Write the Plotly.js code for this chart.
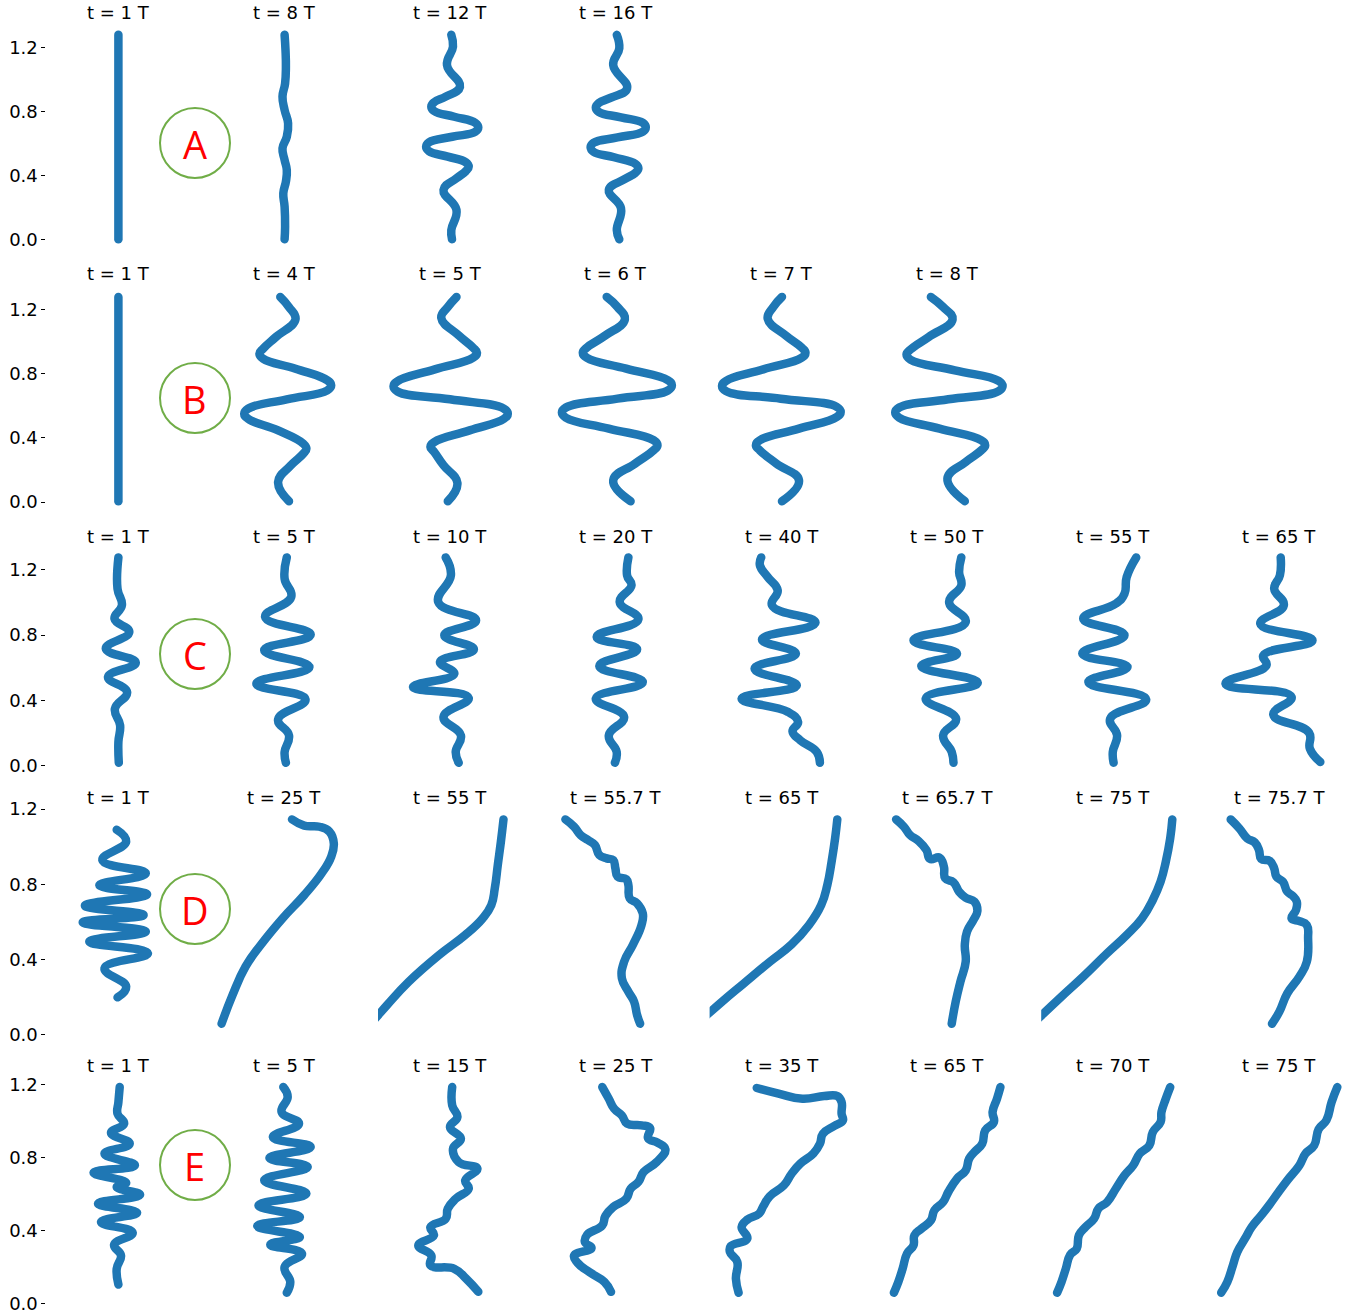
<!DOCTYPE html>
<html>
<head>
<meta charset="utf-8">
<script src="https://cdn.plot.ly/plotly-3.0.1.min.js"></script>
<style>
html,body{margin:0;padding:0;background:#fff;}
#chart{width:1351px;height:1316px;}
#chart .scatterlayer .js-line{stroke-linecap:round;stroke-linejoin:round;}
</style>
</head>
<body>
<div id="chart"></div>
<script>
// ---------------- DATA ----------------
const rowLetters = ['A', 'B', 'C', 'D', 'E'];
const A_t = ['1', '8', '12', '16'];
const B_t = ['1', '4', '5', '6', '7', '8'];
const C_t = ['1', '5', '10', '20', '40', '50', '55', '65'];
const D_t = ['1', '25', '55', '55.7', '65', '65.7', '75', '75.7'];
const E_t = ['1', '5', '15', '25', '35', '65', '70', '75'];
const yTickVals = [0, 0.4, 0.8, 1.2];
const yTickText = ['0.0', '0.4', '0.8', '1.2'];

// Row A
const A1_x = [0, 0];
const A1_y = [1.28, 0.005];
const A2_x = [0.004, 0.013, 0.017, 0.009, -0.017, 0.004, 0.039, 0.026, -0.017, 0.004, 0.026, 0.017, -0.009, 0.004, 0.009, 0.004];
const A2_y = [1.28, 1.185, 1.081, 0.977, 0.894, 0.811, 0.728, 0.644, 0.572, 0.499, 0.437, 0.364, 0.291, 0.208, 0.083, 0.005];
const A3_x = [0.013, 0.03, -0.03, 0.10, -0.043, -0.157, -0.187, -0.157, 0.043, 0.253, 0.283, 0.253, 0.022, -0.209, -0.239, -0.209, -0.022, 0.157, 0.187, 0.157, 0.065, -0.065, 0.065, 0.013, 0.02];
const A3_y = [1.28, 1.206, 1.091, 0.956, 0.894, 0.86, 0.832, 0.804, 0.769, 0.731, 0.703, 0.675, 0.644, 0.61, 0.582, 0.554, 0.52, 0.485, 0.457, 0.429, 0.385, 0.312, 0.187, 0.062, 0.005];
const A4_x = [0.01, 0.035, -0.026, 0.113, -0.048, -0.17, -0.20, -0.17, 0.052, 0.27, 0.30, 0.27, 0.017, -0.222, -0.252, -0.222, -0.017, 0.196, 0.226, 0.196, 0.083, -0.07, 0.052, 0.01, 0.035];
const A4_y = [1.28, 1.195, 1.091, 0.946, 0.888, 0.855, 0.827, 0.799, 0.765, 0.731, 0.703, 0.675, 0.64, 0.606, 0.578, 0.55, 0.516, 0.475, 0.447, 0.419, 0.378, 0.312, 0.198, 0.062, 0.005];

// Row B
const B1_x = [0, 0];
const B1_y = [1.28, 0.005];
const B2_x = [-0.039, 0.048, 0.113, -0.083, -0.21, -0.248, -0.21, 0.113, 0.43, 0.47, 0.43, 0.026, -0.36, -0.40, -0.36, -0.061, 0.19, 0.222, 0.19, 0.061, -0.061, 0.048];
const B2_y = [1.28, 1.217, 1.14, 1.03, 0.958, 0.926, 0.894, 0.832, 0.76, 0.728, 0.696, 0.641, 0.583, 0.551, 0.519, 0.447, 0.365, 0.333, 0.301, 0.225, 0.125, 0.005];
const B3_x = [0.065, -0.022, -0.087, 0.087, 0.23, 0.27, 0.23, -0.152, -0.525, -0.565, -0.525, 0.0, 0.538, 0.578, 0.538, 0.196, -0.156, -0.196, -0.156, -0.065, 0.074, -0.022];
const B3_y = [1.28, 1.217, 1.149, 1.04, 0.964, 0.932, 0.90, 0.828, 0.754, 0.722, 0.69, 0.641, 0.583, 0.551, 0.519, 0.447, 0.375, 0.343, 0.311, 0.229, 0.119, 0.005];
const B4_x = [-0.091, 0.017, 0.091, -0.113, -0.29, -0.33, -0.29, 0.104, 0.521, 0.561, 0.521, 0.017, -0.499, -0.539, -0.499, -0.07, 0.377, 0.417, 0.377, 0.191, -0.026, 0.148];
const B4_y = [1.28, 1.217, 1.14, 1.036, 0.964, 0.932, 0.90, 0.832, 0.76, 0.728, 0.696, 0.645, 0.59, 0.558, 0.526, 0.458, 0.386, 0.354, 0.322, 0.239, 0.135, 0.005];
const B5_x = [0.004, -0.083, -0.139, 0.048, 0.20, 0.239, 0.20, -0.183, -0.556, -0.596, -0.556, -0.009, 0.551, 0.591, 0.551, 0.174, -0.217, -0.257, -0.217, -0.052, 0.174, 0.004];
const B5_y = [1.28, 1.217, 1.144, 1.036, 0.964, 0.932, 0.90, 0.828, 0.756, 0.724, 0.692, 0.645, 0.594, 0.562, 0.53, 0.458, 0.386, 0.354, 0.322, 0.239, 0.135, 0.005];
const B6_x = [-0.165, -0.043, 0.052, -0.187, -0.369, -0.409, -0.369, 0.074, 0.512, 0.552, 0.512, 0.009, -0.482, -0.522, -0.482, -0.078, 0.338, 0.378, 0.338, 0.183, 0.0, 0.174];
const B6_y = [1.28, 1.217, 1.14, 1.03, 0.952, 0.92, 0.888, 0.822, 0.756, 0.724, 0.692, 0.641, 0.59, 0.558, 0.526, 0.458, 0.386, 0.354, 0.322, 0.25, 0.146, 0.005];

// Row C
const C1_x = [0, -0.009, 0.035, -0.039, 0.109, -0.126, 0.174, -0.104, 0.087, -0.035, 0.017, 0, 0.004];
const C1_y = [1.275, 1.084, 0.982, 0.90, 0.819, 0.717, 0.632, 0.544, 0.452, 0.35, 0.249, 0.147, 0.02];
const C2_x = [0.026, 0.004, 0.07, -0.191, 0.265, -0.20, 0.252, -0.278, 0.213, -0.061, 0.048, 0.004, 0.017];
const C2_y = [1.275, 1.145, 1.033, 0.911, 0.803, 0.707, 0.605, 0.503, 0.407, 0.285, 0.187, 0.086, 0.02];
const C3_x = [-0.043, 0.009, -0.117, 0.261, -0.057, 0.239, -0.10, 0.043, -0.37, 0.187, -0.065, 0.109, 0.057, 0.087];
const C3_y = [1.275, 1.165, 1.002, 0.89, 0.799, 0.713, 0.636, 0.564, 0.483, 0.416, 0.30, 0.187, 0.086, 0.02];
const C4_x = [0.126, 0.113, 0.157, 0.039, 0.226, -0.191, 0.213, -0.165, 0.27, -0.20, 0.083, -0.07, 0.009, -0.009];
const C4_y = [1.275, 1.165, 1.104, 1.002, 0.897, 0.789, 0.713, 0.611, 0.513, 0.412, 0.30, 0.187, 0.086, 0.02];
const C5_x = [-0.204, -0.217, -0.139, -0.039, -0.096, 0.339, -0.196, 0.143, -0.27, 0.152, -0.40, 0.065, 0.165, 0.109, 0.187, 0.352, 0.383];
const C5_y = [1.275, 1.227, 1.155, 1.074, 0.982, 0.876, 0.774, 0.687, 0.595, 0.493, 0.412, 0.330, 0.269, 0.212, 0.157, 0.086, 0.02];
const C6_x = [0.139, 0.117, 0.139, 0.017, 0.183, -0.339, 0.096, -0.261, 0.304, -0.217, 0.087, -0.043, 0.043, 0.061];
const C6_y = [1.275, 1.186, 1.104, 1.002, 0.88, 0.768, 0.687, 0.611, 0.509, 0.412, 0.289, 0.187, 0.086, 0.02];
const C7_x = [0.23, 0.135, 0.113, 0.026, -0.30, 0.113, -0.309, 0.143, -0.248, 0.33, -0.03, 0.039, -0.004, 0.004];
const C7_y = [1.275, 1.155, 1.053, 0.992, 0.901, 0.799, 0.687, 0.605, 0.513, 0.407, 0.289, 0.187, 0.086, 0.02];
const C8_x = [0.017, 0.009, -0.048, 0.048, -0.187, 0.335, -0.157, -0.126, -0.535, 0.126, -0.057, 0.30, 0.309, 0.413];
const C8_y = [1.275, 1.165, 1.084, 0.982, 0.87, 0.768, 0.676, 0.615, 0.503, 0.422, 0.314, 0.204, 0.106, 0.025];

// Row D
const D1_x = [-0.017, 0.078, -0.161, 0.274, -0.191, 0.287, -0.335, 0.252, -0.357, 0.274, -0.291, 0.296, -0.139, 0.078, -0.009];
const D1_y = [1.09, 1.027, 0.929, 0.858, 0.796, 0.747, 0.687, 0.637, 0.598, 0.549, 0.496, 0.434, 0.354, 0.257, 0.2];
const D2_x = [0.078, 0.20, 0.352, 0.452, 0.496, 0.47, 0.374, 0.20, -0.017, -0.235, -0.387, -0.517, -0.626];
const D2_y = [1.145, 1.112, 1.106, 1.080, 1.018, 0.947, 0.858, 0.743, 0.619, 0.478, 0.363, 0.212, 0.06];
const D3_x = [0.535, 0.509, 0.478, 0.448, 0.413, 0.326, 0.152, -0.109, -0.413, -0.63, -0.761, -0.848];
const D3_y = [1.145, 1.027, 0.903, 0.779, 0.69, 0.619, 0.531, 0.425, 0.283, 0.159, 0.080, 0.035];
const D4_x = [-0.504, -0.417, -0.352, -0.278, -0.209, -0.165, -0.091, -0.026, -0.004, 0.017, 0.104, 0.126, 0.139, 0.213, 0.27, 0.257, 0.17, 0.083, 0.061, 0.126, 0.183, 0.213, 0.243];
const D4_y = [1.145, 1.106, 1.062, 1.035, 1.009, 0.956, 0.938, 0.929, 0.885, 0.841, 0.828, 0.796, 0.726, 0.699, 0.646, 0.584, 0.478, 0.389, 0.301, 0.23, 0.177, 0.106, 0.06];
const D5_x = [0.557, 0.535, 0.50, 0.457, 0.396, 0.274, 0.10, -0.117, -0.378, -0.596, -0.748, -0.857];
const D5_y = [1.145, 1.044, 0.92, 0.796, 0.69, 0.584, 0.481, 0.389, 0.274, 0.177, 0.106, 0.053];
const D6_x = [-0.513, -0.435, -0.374, -0.287, -0.209, -0.174, -0.078, -0.035, -0.022, 0.061, 0.117, 0.183, 0.27, 0.30, 0.261, 0.196, 0.174, 0.183, 0.13, 0.083, 0.043];
const D6_y = [1.145, 1.106, 1.062, 1.030, 0.982, 0.935, 0.942, 0.894, 0.832, 0.811, 0.761, 0.729, 0.708, 0.658, 0.611, 0.549, 0.478, 0.389, 0.283, 0.177, 0.06];
const D7_x = [0.591, 0.57, 0.526, 0.474, 0.396, 0.287, 0.135, -0.061, -0.30, -0.517, -0.713, -0.822];
const D7_y = [1.145, 1.044, 0.92, 0.814, 0.717, 0.619, 0.531, 0.434, 0.31, 0.204, 0.106, 0.053];
const D8_x = [-0.483, -0.396, -0.317, -0.243, -0.20, -0.178, -0.091, -0.048, -0.026, 0.039, 0.083, 0.135, 0.178, 0.17, 0.126, 0.204, 0.278, 0.291, 0.278, 0.204, 0.083, 0.004, -0.07];
const D8_y = [1.145, 1.097, 1.044, 1.023, 0.982, 0.935, 0.924, 0.885, 0.841, 0.814, 0.761, 0.740, 0.708, 0.664, 0.619, 0.605, 0.584, 0.513, 0.389, 0.31, 0.221, 0.124, 0.06];

// Row E
const E1_x = [0.013, 0, -0.009, 0.057, -0.074, 0.113, -0.139, 0.165, -0.248, 0.078, -0.017, 0.217, -0.204, 0.187, -0.174, 0.143, -0.043, 0.026, -0.017, 0];
const E1_y = [1.185, 1.103, 1.039, 0.985, 0.935, 0.875, 0.821, 0.757, 0.717, 0.662, 0.638, 0.596, 0.547, 0.498, 0.447, 0.388, 0.323, 0.264, 0.191, 0.105];
const E2_x = [-0.009, 0.035, -0.026, 0.148, -0.113, 0.265, -0.148, 0.235, -0.20, 0.222, -0.257, 0.157, -0.27, 0.157, -0.139, 0.178, 0.004, 0.061, 0.026];
const E2_y = [1.185, 1.131, 1.049, 0.985, 0.912, 0.857, 0.797, 0.748, 0.675, 0.602, 0.538, 0.474, 0.425, 0.365, 0.323, 0.274, 0.201, 0.119, 0.06];
const E3_x = [0.022, 0.022, 0.074, 0, 0.109, 0.03, 0.087, 0.274, 0.152, 0.187, 0.057, -0.022, -0.043, -0.196, -0.161, -0.317, -0.187, -0.196, 0.043, 0.161, 0.283];
const E3_y = [1.185, 1.085, 1.021, 0.966, 0.903, 0.848, 0.775, 0.739, 0.675, 0.629, 0.574, 0.52, 0.465, 0.419, 0.374, 0.319, 0.264, 0.21, 0.191, 0.137, 0.065];
const E4_x = [-0.135, -0.07, -0.017, 0.061, 0.113, 0.257, 0.343, 0.322, 0.417, 0.496, 0.409, 0.278, 0.226, 0.148, 0.104, -0.026, -0.104, -0.135, -0.287, -0.309, -0.243, -0.417, -0.383, -0.265, -0.113, -0.048];
const E4_y = [1.185, 1.121, 1.067, 1.030, 0.985, 0.976, 0.961, 0.906, 0.881, 0.844, 0.775, 0.72, 0.666, 0.629, 0.574, 0.529, 0.48, 0.429, 0.377, 0.337, 0.305, 0.264, 0.224, 0.173, 0.119, 0.065];
const E5_x = [-0.248, -0.03, 0.209, 0.426, 0.557, 0.60, 0.60, 0.613, 0.526, 0.413, 0.383, 0.317, 0.187, 0.10, 0.022, -0.117, -0.183, -0.226, -0.343, -0.40, -0.343, -0.509, -0.517, -0.443, -0.457, -0.43];
const E5_y = [1.18, 1.149, 1.121, 1.136, 1.136, 1.103, 1.039, 1.003, 0.972, 0.93, 0.875, 0.821, 0.766, 0.711, 0.647, 0.589, 0.534, 0.492, 0.46, 0.419, 0.356, 0.315, 0.283, 0.228, 0.137, 0.06];
const E6_x = [0.53, 0.496, 0.452, 0.465, 0.378, 0.348, 0.27, 0.217, 0.183, 0.096, 0.009, -0.043, -0.13, -0.165, -0.261, -0.33, -0.339, -0.404, -0.448, -0.491, -0.535];
const E6_y = [1.185, 1.121, 1.049, 0.994, 0.948, 0.875, 0.83, 0.793, 0.729, 0.684, 0.611, 0.556, 0.511, 0.456, 0.41, 0.374, 0.319, 0.274, 0.191, 0.119, 0.06];
const E7_x = [0.57, 0.526, 0.483, 0.474, 0.396, 0.361, 0.265, 0.20, 0.113, 0.026, -0.061, -0.148, -0.191, -0.278, -0.343, -0.365, -0.43, -0.474, -0.517, -0.561];
const E7_y = [1.185, 1.121, 1.049, 0.994, 0.939, 0.866, 0.821, 0.757, 0.702, 0.629, 0.556, 0.52, 0.465, 0.419, 0.374, 0.301, 0.268, 0.191, 0.119, 0.06];
const E8_x = [0.583, 0.526, 0.474, 0.396, 0.352, 0.265, 0.204, 0.083, -0.004, -0.10, -0.178, -0.274, -0.33, -0.417, -0.461, -0.517, -0.578];
const E8_y = [1.185, 1.103, 1.003, 0.954, 0.866, 0.821, 0.757, 0.675, 0.611, 0.538, 0.483, 0.419, 0.365, 0.283, 0.21, 0.119, 0.06];

// ---------------- ASSEMBLY ----------------
const rowTimes = [A_t, B_t, C_t, D_t, E_t];
const rowCurves = [
  [[A1_x, A1_y], [A2_x, A2_y], [A3_x, A3_y], [A4_x, A4_y]],
  [[B1_x, B1_y], [B2_x, B2_y], [B3_x, B3_y], [B4_x, B4_y], [B5_x, B5_y], [B6_x, B6_y]],
  [[C1_x, C1_y], [C2_x, C2_y], [C3_x, C3_y], [C4_x, C4_y], [C5_x, C5_y], [C6_x, C6_y], [C7_x, C7_y], [C8_x, C8_y]],
  [[D1_x, D1_y], [D2_x, D2_y], [D3_x, D3_y], [D4_x, D4_y], [D5_x, D5_y], [D6_x, D6_y], [D7_x, D7_y], [D8_x, D8_y]],
  [[E1_x, E1_y], [E2_x, E2_y], [E3_x, E3_y], [E4_x, E4_y], [E5_x, E5_y], [E6_x, E6_y], [E7_x, E7_y], [E8_x, E8_y]]
];

// layout geometry (pixels)
const W = 1351, H = 1316;
const colCenter = k => 118.4 + k * 165.8;
const HW = 72, PX = 100;
const rowZero = [240, 502, 766, 1035, 1303.7];
const rowScale = [160.3, 160.2, 163.6, 188.3, 182.8];
const yLo = -0.04, yHi = 1.34;
const titleY = [12.5, 274, 536, 797, 1065];
const circleY = [143, 398, 654, 909, 1165];
const circleX = 195, R = 35;
const FONT = 'DejaVu Sans, Verdana, sans-serif';

const traces = [];
const layout = {
  width: W, height: H,
  margin: {l: 0, r: 0, t: 0, b: 0},
  showlegend: false,
  paper_bgcolor: '#ffffff', plot_bgcolor: '#ffffff',
  annotations: [], shapes: []
};

let n = 0;
rowCurves.forEach((curves, r) => {
  const topPx = rowZero[r] - rowScale[r] * yHi;
  const botPx = rowZero[r] - rowScale[r] * yLo;
  curves.forEach((cv, k) => {
    n++;
    const c = colCenter(k);
    const left = Math.max(0, c - HW), right = Math.min(W, c + HW);
    const xk = n === 1 ? 'xaxis' : 'xaxis' + n;
    const yk = n === 1 ? 'yaxis' : 'yaxis' + n;
    const xr = n === 1 ? 'x' : 'x' + n;
    const yr = n === 1 ? 'y' : 'y' + n;
    layout[xk] = {domain: [left / W, right / W], range: [(left - c) / PX, (right - c) / PX],
                  visible: false, fixedrange: true, anchor: yr};
    const first = (k === 0);
    layout[yk] = {domain: [1 - botPx / H, 1 - topPx / H], range: [yLo, yHi], anchor: xr,
                  visible: first, showgrid: false, zeroline: false, showline: false,
                  showticklabels: first, ticks: first ? 'outside' : '', ticklen: 4, tickwidth: 1,
                  tickcolor: '#000', tickvals: yTickVals, ticktext: yTickText,
                  tickfont: {family: FONT, size: 18, color: '#000'}, fixedrange: true};
    traces.push({type: 'scatter', mode: 'lines', x: cv[0], y: cv[1], xaxis: xr, yaxis: yr,
                 line: {color: '#1f77b4', width: 8.5, shape: 'spline', smoothing: 1.3},
                 hoverinfo: 'skip'});
    layout.annotations.push({text: 't = ' + rowTimes[r][k] + ' T', xref: 'paper', yref: 'paper',
      x: c / W, y: 1 - titleY[r] / H, xanchor: 'center', yanchor: 'middle', showarrow: false,
      font: {family: FONT, size: 18, color: '#000'}});
  });
  layout.shapes.push({type: 'circle', xref: 'paper', yref: 'paper',
    x0: (circleX - R) / W, x1: (circleX + R) / W,
    y0: 1 - (circleY[r] + R) / H, y1: 1 - (circleY[r] - R) / H,
    line: {color: '#70ad47', width: 2}, fillcolor: 'rgba(0,0,0,0)'});
  layout.annotations.push({text: rowLetters[r], xref: 'paper', yref: 'paper',
    x: circleX / W, y: 1 - (circleY[r] + 1) / H, xanchor: 'center', yanchor: 'middle', showarrow: false,
    font: {family: 'Open Sans, DejaVu Sans, sans-serif', size: 38, color: '#ff0000'}});
});

Plotly.newPlot('chart', traces, layout, {displayModeBar: false, staticPlot: true});
</script>
</body>
</html>
